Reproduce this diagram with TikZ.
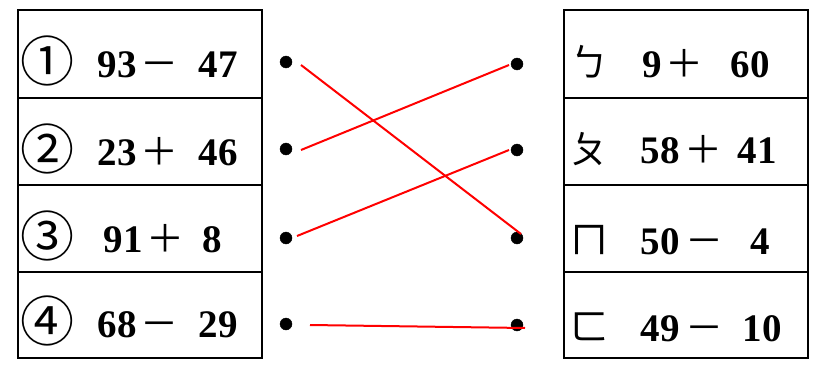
\documentclass[tikz,border=0pt]{standalone}
\usepackage{fontspec}
\setmainfont{Liberation Serif}
\newfontfamily\cjk{Noto Sans CJK SC}
\tikzset{
  cellbox/.style={draw=black, line width=2.8pt},
  num/.style={inner sep=0pt, font=\bfseries\fontsize{39}{39}\selectfont},
  opr/.style={inner sep=0pt, font=\cjk\fontsize{38}{38}\selectfont},
  lab/.style={inner sep=0pt, font=\cjk\fontsize{54}{54}\selectfont},
  bpm/.style={inner sep=0pt, font=\cjk\fontsize{38}{38}\selectfont},
  blackdot/.style={circle, fill=black, draw=black, inner sep=0pt, minimum size=12pt},
  match/.style={draw=red, line width=2pt}
}
\begin{document}
\begin{tikzpicture}[x=1pt, y=-1pt]
\useasboundingbox (0,0) rectangle (817,372);
% tables
\foreach \t/\b in {10/98, 98/185, 185/272, 272/358}
  \draw[cellbox] (18,\t) rectangle (262,\b);
\foreach \t/\b in {10/98, 98/185, 185/272, 272/358}
  \draw[cellbox] (564,\t) rectangle (808,\b);
% left texts
\node[lab, anchor=base west] (l1) at (20,81) {①};
\node[num, anchor=base east] (l1a) at (137,77) {93};
\node[opr, anchor=base west] (l1o) at (140,77) {－};
\node[num, anchor=base east] (l1b) at (238,77) {47};
\node[lab, anchor=base west] (l2) at (20,169) {②};
\node[num, anchor=base east] (l2a) at (137,165) {23};
\node[opr, anchor=base west] (l2o) at (140,165) {＋};
\node[num, anchor=base east] (l2b) at (238,165) {46};
\node[lab, anchor=base west] (l3) at (20,256) {③};
\node[num, anchor=base east] (l3a) at (143,252) {91};
\node[opr, anchor=base west] (l3o) at (146,252) {＋};
\node[num, anchor=base east] (l3b) at (222,252) {8};
\node[lab, anchor=base west] (l4) at (20,341) {④};
\node[num, anchor=base east] (l4a) at (137,337) {68};
\node[opr, anchor=base west] (l4o) at (140,337) {－};
\node[num, anchor=base east] (l4b) at (238,337) {29};
% right texts
\node[bpm, anchor=base west] (r1) at (570,76) {ㄅ};
\node[num, anchor=base east] (r1a) at (662,77) {9};
\node[opr, anchor=base west] (r1o) at (665,77) {＋};
\node[num, anchor=base east] (r1b) at (770,77) {60};
\node[bpm, anchor=base west] (r2) at (570,163) {ㄆ};
\node[num, anchor=base east] (r2a) at (680,163) {58};
\node[opr, anchor=base west] (r2o) at (684,163) {＋};
\node[num, anchor=base east] (r2b) at (777,163) {41};
\node[bpm, anchor=base west] (r3) at (570,253) {ㄇ};
\node[num, anchor=base east] (r3a) at (680,254) {50};
\node[opr, anchor=base west] (r3o) at (685,254) {－};
\node[num, anchor=base east] (r3b) at (770,254) {4};
\node[bpm, anchor=base west] (r4) at (570,340) {ㄈ};
\node[num, anchor=base east] (r4a) at (680,341) {49};
\node[opr, anchor=base west] (r4o) at (685,341) {－};
\node[num, anchor=base east] (r4b) at (782,341) {10};
% dots
\node[blackdot] (d1) at (286,62) {};
\node[blackdot] (d2) at (286,149) {};
\node[blackdot] (d3) at (286,238) {};
\node[blackdot] (d4) at (286,324) {};
\node[blackdot] (e1) at (517,64) {};
\node[blackdot] (e2) at (517,150) {};
\node[blackdot] (e3) at (517,238) {};
\node[blackdot] (e4) at (517,325) {};
% line ends
\coordinate (s1) at (301,65);  \coordinate (t1) at (521,234);
\coordinate (s2) at (301,150); \coordinate (t2) at (509,65);
\coordinate (s3) at (297,236); \coordinate (t3) at (509,150);
\coordinate (s4) at (310,325); \coordinate (t4) at (525,328);
\draw[match] (s1) -- (t1);
\draw[match] (s2) -- (t2);
\draw[match] (s3) -- (t3);
\draw[match] (s4) -- (t4);
\end{tikzpicture}
\end{document}
